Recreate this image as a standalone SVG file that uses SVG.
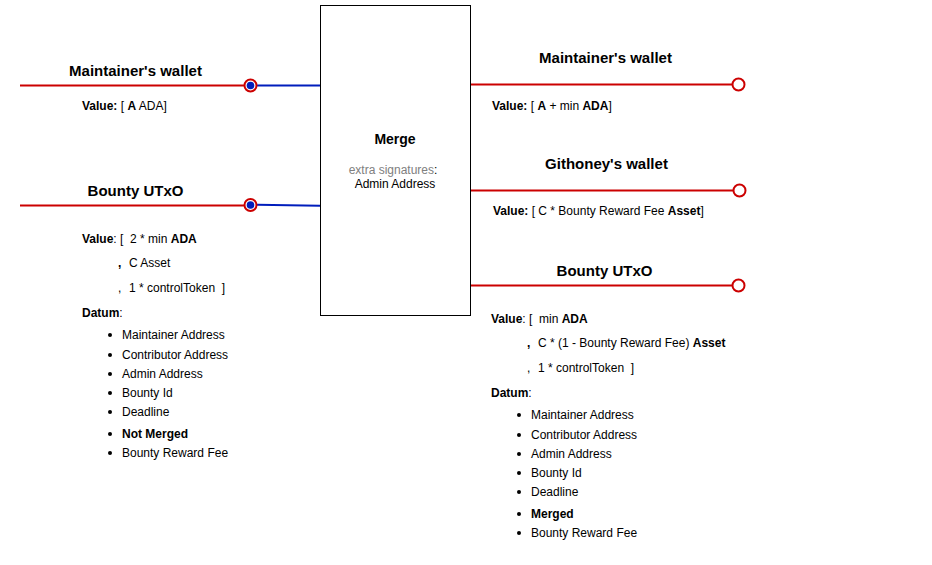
<svg xmlns="http://www.w3.org/2000/svg" width="932" height="565" viewBox="0 0 932 565">
<style>
text{font-family:"Liberation Sans",Arial,sans-serif;fill:#000;white-space:pre}
.h{font-size:15px;font-weight:bold;text-anchor:middle}
.t{font-size:12px}
.b{font-weight:bold}
.g{fill:#808080}
.red{stroke:#CC0000;stroke-width:2;fill:none}
.blue{stroke:#001DBC;stroke-width:2;fill:none}
.port{stroke:#CC0000;stroke-width:2;fill:#fff}
.dot{fill:#001DBC}
</style>
<rect width="932" height="565" fill="#fff"/>
<g id="connectors">
<line class="red" x1="20" y1="85.5" x2="244" y2="85.5"/>
<line class="blue" x1="257" y1="85.5" x2="320" y2="85.5"/>
<line class="red" x1="20" y1="205.5" x2="244" y2="205.5"/>
<line class="blue" x1="257" y1="204.8" x2="320" y2="205.8"/>
<line class="red" x1="471" y1="84.5" x2="732" y2="84.5"/>
<line class="red" x1="471" y1="190.5" x2="733" y2="190.5"/>
<line class="red" x1="471" y1="285.5" x2="732" y2="285.5"/>
</g>
<g id="merge">
<rect x="320.5" y="5.5" width="150" height="310" fill="#fff" stroke="#000" stroke-width="1"/>
<text class="t b" x="395" y="144" text-anchor="middle" style="font-size:14px">Merge</text>
<text class="t" x="393" y="174" text-anchor="middle"><tspan class="g">extra signatures</tspan>:</text>
<text class="t" x="395" y="188" text-anchor="middle">Admin Address</text>
</g>
<g id="in-maintainer">
<circle class="port" cx="250.5" cy="85.5" r="6"/>
<circle class="dot" cx="250.5" cy="85.5" r="3.8"/>
<text class="h" x="135.5" y="76">Maintainer's wallet</text>
<text class="t" x="82" y="110"><tspan class="b">Value:</tspan> [ <tspan class="b">A</tspan> ADA]</text>
</g>
<g id="in-bounty">
<circle class="port" cx="250.5" cy="205" r="6"/>
<circle class="dot" cx="250.5" cy="205" r="3.8"/>
<text class="h" x="135.5" y="196">Bounty UTxO</text>
<text class="t" x="82" y="243"><tspan class="b">Value</tspan>: [  2 * min <tspan class="b">ADA</tspan></text>
<text class="t b" x="118" y="267">,</text>
<text class="t" x="129" y="267">C Asset</text>
<text class="t" x="118" y="292">,</text>
<text class="t" x="129" y="292">1 * controlToken  ]</text>
<text class="t b" x="82" y="317">Datum<tspan style="font-weight:normal">:</tspan></text>
<g>
<circle cx="110" cy="335" r="2"/><text class="t" x="122" y="339">Maintainer Address</text>
<circle cx="110" cy="355" r="2"/><text class="t" x="122" y="359">Contributor Address</text>
<circle cx="110" cy="374" r="2"/><text class="t" x="122" y="378">Admin Address</text>
<circle cx="110" cy="393" r="2"/><text class="t" x="122" y="397">Bounty Id</text>
<circle cx="110" cy="412" r="2"/><text class="t" x="122" y="416">Deadline</text>
<circle cx="110" cy="434" r="2"/><text class="t b" x="122" y="438">Not Merged</text>
<circle cx="110" cy="453" r="2"/><text class="t" x="122" y="457">Bounty Reward Fee</text>
</g>
</g>
<g id="out-maintainer">
<circle class="port" cx="738.5" cy="84.5" r="6"/>
<text class="h" x="605.5" y="63">Maintainer's wallet</text>
<text class="t" x="492" y="110"><tspan class="b">Value:</tspan> [ <tspan class="b">A</tspan> + min <tspan class="b">ADA</tspan>]</text>
</g>
<g id="out-githoney">
<circle class="port" cx="739.5" cy="190.5" r="6"/>
<text class="h" x="606.5" y="169">Githoney's wallet</text>
<text class="t" x="493" y="215"><tspan class="b">Value:</tspan> [ C * Bounty Reward Fee <tspan class="b">Asset</tspan>]</text>
</g>
<g id="out-bounty">
<circle class="port" cx="738.5" cy="285.5" r="6"/>
<text class="h" x="604.5" y="276">Bounty UTxO</text>
<text class="t" x="491" y="323"><tspan class="b">Value</tspan>: [  min <tspan class="b">ADA</tspan></text>
<text class="t b" x="527" y="347">,</text>
<text class="t" x="538" y="347">C * (1 - Bounty Reward Fee) <tspan class="b">Asset</tspan></text>
<text class="t" x="527" y="372">,</text>
<text class="t" x="538" y="372">1 * controlToken  ]</text>
<text class="t b" x="491" y="397">Datum<tspan style="font-weight:normal">:</tspan></text>
<g>
<circle cx="519" cy="415" r="2"/><text class="t" x="531" y="419">Maintainer Address</text>
<circle cx="519" cy="435" r="2"/><text class="t" x="531" y="439">Contributor Address</text>
<circle cx="519" cy="454" r="2"/><text class="t" x="531" y="458">Admin Address</text>
<circle cx="519" cy="473" r="2"/><text class="t" x="531" y="477">Bounty Id</text>
<circle cx="519" cy="492" r="2"/><text class="t" x="531" y="496">Deadline</text>
<circle cx="519" cy="514" r="2"/><text class="t b" x="531" y="518">Merged</text>
<circle cx="519" cy="533" r="2"/><text class="t" x="531" y="537">Bounty Reward Fee</text>
</g>
</g>
</svg>
